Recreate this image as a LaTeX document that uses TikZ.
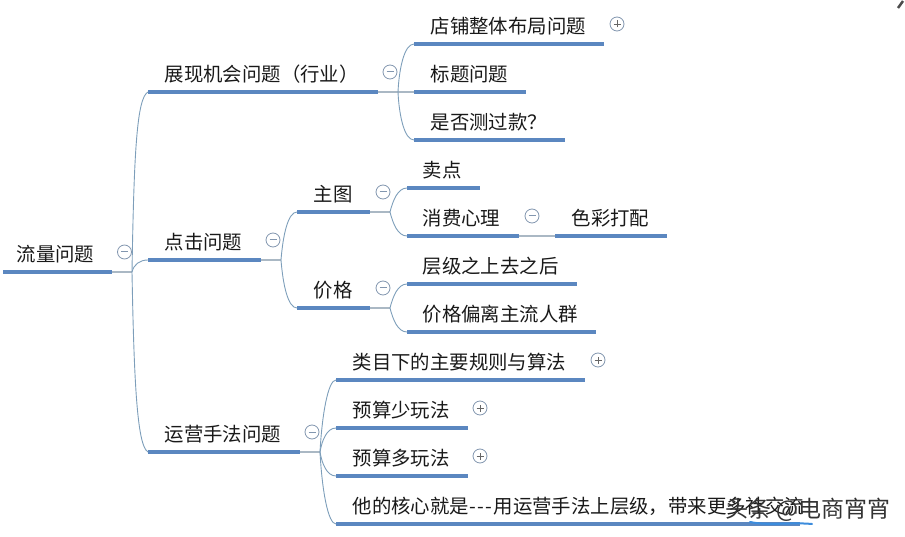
\documentclass[tikz,border=0pt]{standalone}
\usepackage{fontspec}
\setmainfont{Noto Sans CJK SC}
\usetikzlibrary{positioning}
\definecolor{barblue}{RGB}{91,135,192}
\definecolor{linkgray}{RGB}{170,184,196}
\definecolor{branchblue}{RGB}{125,158,186}
\definecolor{iconblue}{RGB}{130,150,175}
\definecolor{inkblue}{RGB}{60,140,220}
\tikzset{
	bar/.style={fill=barblue,inner sep=0pt,minimum height=4pt,anchor=west},
	topic/.style={inner sep=0pt,anchor=west,text=black!90,font=\fontsize{19.4pt}{22pt}\selectfont},
	toggle/.style={circle,draw=iconblue,line width=.8pt,fill=white,inner sep=0pt,minimum size=14pt},
	stub/.style={draw=linkgray,line width=1.4pt},
	branch/.style={draw=branchblue,line width=.9pt}
}
\newcommand{\minusmark}[1]{\draw[iconblue,line width=1pt] ([xshift=-3.5pt]#1.center) -- ([xshift=3.5pt]#1.center);}
\newcommand{\plusmark}[1]{\draw[black!60,line width=.8pt] ([xshift=-3.5pt]#1.center) -- ([xshift=3.5pt]#1.center) ([yshift=-3.5pt]#1.center) -- ([yshift=3.5pt]#1.center);}
\begin{document}
\begin{tikzpicture}[x=1pt,y=-1pt]
	\useasboundingbox (0,0) rectangle (905,537);
	% bars
	\node (bar root) [bar,minimum width=109pt] at (3,272) {};
	\node (bar show) [bar,minimum width=230pt] at (148,92) {};
	\node (bar click) [bar,minimum width=113pt] at (148,260) {};
	\node (bar run) [bar,minimum width=152pt] at (148,452) {};
	\node (bar shop) [bar,minimum width=190pt] at (414,44) {};
	\node (bar title) [bar,minimum width=112pt] at (414,92) {};
	\node (bar test) [bar,minimum width=151pt] at (414,140) {};
	\node (bar pic) [bar,minimum width=73pt] at (297,212) {};
	\node (bar price) [bar,minimum width=73pt] at (297,308) {};
	\node (bar sell) [bar,minimum width=73pt] at (407,188) {};
	\node (bar mind) [bar,minimum width=112pt] at (407,236) {};
	\node (bar color) [bar,minimum width=112pt] at (555,236) {};
	\node (bar level) [bar,minimum width=170pt] at (407,284) {};
	\node (bar crowd) [bar,minimum width=189pt] at (407,332) {};
	\node (bar rule) [bar,minimum width=249pt] at (336,380) {};
	\node (bar less) [bar,minimum width=132pt] at (336,428) {};
	\node (bar more) [bar,minimum width=132pt] at (336,476) {};
	\node (bar core) [bar,minimum width=464pt] at (336,524) {};
	% hubs
	\coordinate (hub root) at (132,272);
	\coordinate (hub show) at (398,92);
	\coordinate (hub click) at (281,260);
	\coordinate (hub pic) at (390,212);
	\coordinate (hub price) at (390,308);
	\coordinate (hub run) at (320,452);
	% links
	\draw[stub] (bar root.east) -- (hub root);
	\draw[stub] (bar show.east) -- (hub show) -- (bar title.west);
	\draw[stub] (bar click.east) -- (hub click);
	\draw[stub] (bar pic.east) -- (hub pic);
	\draw[stub] (bar price.east) -- (hub price);
	\draw[stub] (bar run.east) -- (hub run);
	\draw[stub] (bar mind.east) -- (bar color.west);
	\draw[branch] (hub root) .. controls (134,150) and (137,98) .. (bar show.west);
	\draw[branch] (hub root) .. controls (134,264) and (140,260) .. (bar click.west);
	\draw[branch] (hub root) .. controls (134,380) and (137,446) .. (bar run.west);
	\draw[branch] (hub show) .. controls (399,70) and (404,44) .. (bar shop.west);
	\draw[branch] (hub show) .. controls (399,114) and (404,140) .. (bar test.west);
	\draw[branch] (hub click) .. controls (283,235) and (288,212) .. (bar pic.west);
	\draw[branch] (hub click) .. controls (283,285) and (288,308) .. (bar price.west);
	\draw[branch] (hub pic) .. controls (393,200) and (398,188) .. (bar sell.west);
	\draw[branch] (hub pic) .. controls (393,224) and (398,236) .. (bar mind.west);
	\draw[branch] (hub price) .. controls (393,296) and (398,284) .. (bar level.west);
	\draw[branch] (hub price) .. controls (393,320) and (398,332) .. (bar crowd.west);
	\draw[branch] (hub run) .. controls (322,415) and (328,380) .. (bar rule.west);
	\draw[branch] (hub run) .. controls (322,440) and (327,428) .. (bar less.west);
	\draw[branch] (hub run) .. controls (322,464) and (327,476) .. (bar more.west);
	\draw[branch] (hub run) .. controls (322,490) and (328,524) .. (bar core.west);
	% texts
	\node (root) [topic] at (16.5,254.5) {流量问题};
	\node (show) [topic] at (164.5,74.5) {展现机会问题（行业）};
	\node (click) [topic] at (164.5,242.5) {点击问题};
	\node (run) [topic] at (164.5,434.5) {运营手法问题};
	\node (shop) [topic] at (430.5,26.5) {店铺整体布局问题};
	\node (title) [topic] at (430.5,74.5) {标题问题};
	\node (test) [topic] at (430.5,122.5) {是否测过款？};
	\node (pic) [topic] at (313.5,194.5) {主图};
	\node (price) [topic] at (313.5,290.5) {价格};
	\node (sell) [topic] at (422.5,170.5) {卖点};
	\node (mind) [topic] at (422.5,218.5) {消费心理};
	\node (color) [topic] at (571.5,218.5) {色彩打配};
	\node (level) [topic] at (422.5,266.5) {层级之上去之后};
	\node (crowd) [topic] at (422.5,314.5) {价格偏离主流人群};
	\node (rule) [topic] at (352.5,362.5) {类目下的主要规则与算法};
	\node (less) [topic] at (352.5,410.5) {预算少玩法};
	\node (more) [topic] at (352.5,458.5) {预算多玩法};
	\node (core) [topic] at (352.5,506.5) {他的核心就是-\kern1.5pt-\kern1.5pt-\kern1.5pt用运营手法上层级，带来更多社交流};
	% toggles
	\node (minus root) [toggle] at (124.5,252) {};
	\node (minus show) [toggle] at (390,72) {};
	\node (minus click) [toggle] at (273,240) {};
	\node (minus pic) [toggle] at (383,192) {};
	\node (minus mind) [toggle] at (532,216) {};
	\node (minus price) [toggle] at (383,288) {};
	\node (minus run) [toggle] at (312,432) {};
	\node (plus shop) [toggle] at (617,24) {};
	\node (plus rule) [toggle] at (598,360) {};
	\node (plus less) [toggle] at (480,408) {};
	\node (plus more) [toggle] at (480,456) {};
	\minusmark{minus root}
	\minusmark{minus show}
	\minusmark{minus click}
	\minusmark{minus pic}
	\minusmark{minus mind}
	\minusmark{minus price}
	\minusmark{minus run}
	\plusmark{plus shop}
	\plusmark{plus rule}
	\plusmark{plus less}
	\plusmark{plus more}
	% watermark
	\draw[inkblue,line width=2pt,line cap=round] (750,522) .. controls (770,526) and (790,522) .. (812,524);
	\node (mark) [topic,text=black!80,font=\fontsize{23pt}{26pt}\selectfont] at (725,510) {头条 @电商宵宵};
	\draw[black!70,line width=2.5pt] (898,8) -- (903,1);
\end{tikzpicture}
\end{document}
